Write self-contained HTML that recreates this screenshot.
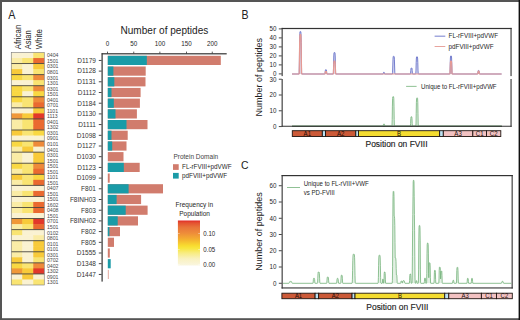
<!DOCTYPE html>
<html><head><meta charset="utf-8"><title>FVIII peptide figure</title><style>
html,body{margin:0;padding:0;background:#fff;}
svg{display:block;}
text{font-family:"Liberation Sans", sans-serif;}
</style></head><body>
<svg width="520" height="320" viewBox="0 0 520 320">
<rect x="0" y="0" width="520" height="320" fill="#fff"/>
<rect x="0" y="0" width="520" height="2" fill="#555"/>
<rect x="0" y="0" width="2" height="320" fill="#555"/>
<rect x="0" y="318.2" width="520" height="1.8" fill="#555"/>
<rect x="518.6" y="0" width="1.4" height="320" fill="#111"/>
<text transform="translate(8.30,18.80) scale(0.900,1)" font-size="12.00" fill="#222">A</text>
<text transform="translate(241.60,18.80) scale(0.880,1)" font-size="12.00" fill="#222">B</text>
<text transform="translate(240.90,168.80) scale(0.900,1)" font-size="11.60" fill="#222">C</text>
<rect x="11.25" y="52.50" width="11.60" height="6.14" fill="#faf2d2"/>
<rect x="22.25" y="52.50" width="11.60" height="6.14" fill="#faf2d2"/>
<rect x="33.25" y="52.50" width="11.00" height="6.14" fill="#f9e472"/>
<text transform="translate(46.90,57.42) scale(0.840,1)" font-size="6.20" fill="#4a4a4a">0404</text>
<rect x="11.25" y="58.04" width="11.60" height="6.14" fill="#faeca6"/>
<rect x="22.25" y="58.04" width="11.60" height="6.14" fill="#f9e472"/>
<rect x="33.25" y="58.04" width="11.00" height="6.14" fill="#ea6a30"/>
<text transform="translate(46.90,62.95) scale(0.840,1)" font-size="6.20" fill="#4a4a4a">1501</text>
<rect x="11.25" y="63.57" width="11.60" height="6.14" fill="#faeca6"/>
<rect x="22.25" y="63.57" width="11.60" height="6.14" fill="#faf2d2"/>
<rect x="33.25" y="63.57" width="11.00" height="6.14" fill="#f8ca3a"/>
<text transform="translate(46.90,68.49) scale(0.840,1)" font-size="6.20" fill="#4a4a4a">0301</text>
<rect x="11.25" y="69.11" width="11.60" height="6.14" fill="#f8ca3a"/>
<rect x="22.25" y="69.11" width="11.60" height="6.14" fill="#faf2d2"/>
<rect x="33.25" y="69.11" width="11.00" height="6.14" fill="#f9e472"/>
<text transform="translate(46.90,74.03) scale(0.840,1)" font-size="6.20" fill="#4a4a4a">0801</text>
<rect x="11.25" y="74.64" width="11.60" height="6.14" fill="#f9d842"/>
<rect x="22.25" y="74.64" width="11.60" height="6.14" fill="#f9e472"/>
<rect x="33.25" y="74.64" width="11.00" height="6.14" fill="#ee8a3a"/>
<text transform="translate(46.90,79.56) scale(0.840,1)" font-size="6.20" fill="#4a4a4a">0301</text>
<rect x="11.25" y="80.18" width="11.60" height="6.14" fill="#faf2d2"/>
<rect x="22.25" y="80.18" width="11.60" height="6.14" fill="#faf2d2"/>
<rect x="33.25" y="80.18" width="11.00" height="6.14" fill="#f9e472"/>
<text transform="translate(46.90,85.10) scale(0.840,1)" font-size="6.20" fill="#4a4a4a">1301</text>
<rect x="11.25" y="85.71" width="11.60" height="6.14" fill="#f9d842"/>
<rect x="22.25" y="85.71" width="11.60" height="6.14" fill="#f9e472"/>
<rect x="33.25" y="85.71" width="11.00" height="6.14" fill="#ee8a3a"/>
<text transform="translate(46.90,90.63) scale(0.840,1)" font-size="6.20" fill="#4a4a4a">0301</text>
<rect x="11.25" y="91.25" width="11.60" height="6.14" fill="#f9d842"/>
<rect x="22.25" y="91.25" width="11.60" height="6.14" fill="#faf2d2"/>
<rect x="33.25" y="91.25" width="11.00" height="6.14" fill="#f9d842"/>
<text transform="translate(46.90,96.17) scale(0.840,1)" font-size="6.20" fill="#4a4a4a">1501</text>
<rect x="11.25" y="96.79" width="11.60" height="6.14" fill="#f9d842"/>
<rect x="22.25" y="96.79" width="11.60" height="6.14" fill="#f9e472"/>
<rect x="33.25" y="96.79" width="11.00" height="6.14" fill="#ee8a3a"/>
<text transform="translate(46.90,101.70) scale(0.840,1)" font-size="6.20" fill="#4a4a4a">0401</text>
<rect x="11.25" y="102.32" width="11.60" height="6.14" fill="#faeca6"/>
<rect x="22.25" y="102.32" width="11.60" height="6.14" fill="#f9e472"/>
<rect x="33.25" y="102.32" width="11.00" height="6.14" fill="#ea6a30"/>
<text transform="translate(46.90,107.24) scale(0.840,1)" font-size="6.20" fill="#4a4a4a">0701</text>
<rect x="11.25" y="107.86" width="11.60" height="6.14" fill="#faf2d2"/>
<rect x="22.25" y="107.86" width="11.60" height="6.14" fill="#faf2d2"/>
<rect x="33.25" y="107.86" width="11.00" height="6.14" fill="#f8ca3a"/>
<text transform="translate(46.90,112.78) scale(0.840,1)" font-size="6.20" fill="#4a4a4a">1101</text>
<rect x="11.25" y="113.39" width="11.60" height="6.14" fill="#f09838"/>
<rect x="22.25" y="113.39" width="11.60" height="6.14" fill="#f8ca3a"/>
<rect x="33.25" y="113.39" width="11.00" height="6.14" fill="#e2382a"/>
<text transform="translate(46.90,118.31) scale(0.840,1)" font-size="6.20" fill="#4a4a4a">1113</text>
<rect x="11.25" y="118.93" width="11.60" height="6.14" fill="#faeca6"/>
<rect x="22.25" y="118.93" width="11.60" height="6.14" fill="#f9e472"/>
<rect x="33.25" y="118.93" width="11.00" height="6.14" fill="#ea6a30"/>
<text transform="translate(46.90,123.85) scale(0.840,1)" font-size="6.20" fill="#4a4a4a">0401</text>
<rect x="11.25" y="124.46" width="11.60" height="6.14" fill="#faeca6"/>
<rect x="22.25" y="124.46" width="11.60" height="6.14" fill="#f9e472"/>
<rect x="33.25" y="124.46" width="11.00" height="6.14" fill="#ea6a30"/>
<text transform="translate(46.90,129.38) scale(0.840,1)" font-size="6.20" fill="#4a4a4a">1302</text>
<rect x="11.25" y="130.00" width="11.60" height="6.14" fill="#f8ca3a"/>
<rect x="22.25" y="130.00" width="11.60" height="6.14" fill="#f9e472"/>
<rect x="33.25" y="130.00" width="11.00" height="6.14" fill="#f9d842"/>
<text transform="translate(46.90,134.92) scale(0.840,1)" font-size="6.20" fill="#4a4a4a">0301</text>
<rect x="11.25" y="135.54" width="11.60" height="6.14" fill="#faf2d2"/>
<rect x="22.25" y="135.54" width="11.60" height="6.14" fill="#faf2d2"/>
<rect x="33.25" y="135.54" width="11.00" height="6.14" fill="#faf2d2"/>
<text transform="translate(46.90,140.45) scale(0.840,1)" font-size="6.20" fill="#4a4a4a">0901</text>
<rect x="11.25" y="141.07" width="11.60" height="6.14" fill="#f9d842"/>
<rect x="22.25" y="141.07" width="11.60" height="6.14" fill="#f9e472"/>
<rect x="33.25" y="141.07" width="11.00" height="6.14" fill="#ee8a3a"/>
<text transform="translate(46.90,145.99) scale(0.840,1)" font-size="6.20" fill="#4a4a4a">0101</text>
<rect x="11.25" y="146.61" width="11.60" height="6.14" fill="#faeca6"/>
<rect x="22.25" y="146.61" width="11.60" height="6.14" fill="#f8ca3a"/>
<rect x="33.25" y="146.61" width="11.00" height="6.14" fill="#faf2d2"/>
<text transform="translate(46.90,151.53) scale(0.840,1)" font-size="6.20" fill="#4a4a4a">0401</text>
<rect x="11.25" y="152.14" width="11.60" height="6.14" fill="#faeca6"/>
<rect x="22.25" y="152.14" width="11.60" height="6.14" fill="#faf2d2"/>
<rect x="33.25" y="152.14" width="11.00" height="6.14" fill="#f8ca3a"/>
<text transform="translate(46.90,157.06) scale(0.840,1)" font-size="6.20" fill="#4a4a4a">0301</text>
<rect x="11.25" y="157.68" width="11.60" height="6.14" fill="#faeca6"/>
<rect x="22.25" y="157.68" width="11.60" height="6.14" fill="#faf2d2"/>
<rect x="33.25" y="157.68" width="11.00" height="6.14" fill="#f8ca3a"/>
<text transform="translate(46.90,162.60) scale(0.840,1)" font-size="6.20" fill="#4a4a4a">1501</text>
<rect x="11.25" y="163.21" width="11.60" height="6.14" fill="#f9d842"/>
<rect x="22.25" y="163.21" width="11.60" height="6.14" fill="#f9e472"/>
<rect x="33.25" y="163.21" width="11.00" height="6.14" fill="#ee8a3a"/>
<text transform="translate(46.90,168.13) scale(0.840,1)" font-size="6.20" fill="#4a4a4a">1501</text>
<rect x="11.25" y="168.75" width="11.60" height="6.14" fill="#faeca6"/>
<rect x="22.25" y="168.75" width="11.60" height="6.14" fill="#f9e472"/>
<rect x="33.25" y="168.75" width="11.00" height="6.14" fill="#ea6a30"/>
<text transform="translate(46.90,173.67) scale(0.840,1)" font-size="6.20" fill="#4a4a4a">1501</text>
<rect x="11.25" y="174.29" width="11.60" height="6.14" fill="#f8ca3a"/>
<rect x="22.25" y="174.29" width="11.60" height="6.14" fill="#f9e472"/>
<rect x="33.25" y="174.29" width="11.00" height="6.14" fill="#f9d842"/>
<text transform="translate(46.90,179.20) scale(0.840,1)" font-size="6.20" fill="#4a4a4a">1101</text>
<rect x="11.25" y="179.82" width="11.60" height="6.14" fill="#faeca6"/>
<rect x="22.25" y="179.82" width="11.60" height="6.14" fill="#f9e472"/>
<rect x="33.25" y="179.82" width="11.00" height="6.14" fill="#ea6a30"/>
<text transform="translate(46.90,184.74) scale(0.840,1)" font-size="6.20" fill="#4a4a4a">1501</text>
<rect x="11.25" y="185.36" width="11.60" height="6.14" fill="#faf2d2"/>
<rect x="22.25" y="185.36" width="11.60" height="6.14" fill="#faf2d2"/>
<rect x="33.25" y="185.36" width="11.00" height="6.14" fill="#faf2d2"/>
<text transform="translate(46.90,190.28) scale(0.840,1)" font-size="6.20" fill="#4a4a4a">0407</text>
<rect x="11.25" y="190.89" width="11.60" height="6.14" fill="#faeca6"/>
<rect x="22.25" y="190.89" width="11.60" height="6.14" fill="#f9e472"/>
<rect x="33.25" y="190.89" width="11.00" height="6.14" fill="#ea6a30"/>
<text transform="translate(46.90,195.81) scale(0.840,1)" font-size="6.20" fill="#4a4a4a">1501</text>
<rect x="11.25" y="196.43" width="11.60" height="6.14" fill="#faf2d2"/>
<rect x="22.25" y="196.43" width="11.60" height="6.14" fill="#faf2d2"/>
<rect x="33.25" y="196.43" width="11.00" height="6.14" fill="#faf2d2"/>
<text transform="translate(46.90,201.35) scale(0.840,1)" font-size="6.20" fill="#4a4a4a">1501</text>
<rect x="11.25" y="201.96" width="11.60" height="6.14" fill="#faeca6"/>
<rect x="22.25" y="201.96" width="11.60" height="6.14" fill="#f9e472"/>
<rect x="33.25" y="201.96" width="11.00" height="6.14" fill="#ea6a30"/>
<text transform="translate(46.90,206.88) scale(0.840,1)" font-size="6.20" fill="#4a4a4a">1602</text>
<rect x="11.25" y="207.50" width="11.60" height="6.14" fill="#faeca6"/>
<rect x="22.25" y="207.50" width="11.60" height="6.14" fill="#f9e472"/>
<rect x="33.25" y="207.50" width="11.00" height="6.14" fill="#ea6a30"/>
<text transform="translate(46.90,212.42) scale(0.840,1)" font-size="6.20" fill="#4a4a4a">0408</text>
<rect x="11.25" y="213.04" width="11.60" height="6.14" fill="#faf2d2"/>
<rect x="22.25" y="213.04" width="11.60" height="6.14" fill="#faf2d2"/>
<rect x="33.25" y="213.04" width="11.00" height="6.14" fill="#faf2d2"/>
<text transform="translate(46.90,217.95) scale(0.840,1)" font-size="6.20" fill="#4a4a4a">1501</text>
<rect x="11.25" y="218.57" width="11.60" height="6.14" fill="#f09838"/>
<rect x="22.25" y="218.57" width="11.60" height="6.14" fill="#f8ca3a"/>
<rect x="33.25" y="218.57" width="11.00" height="6.14" fill="#e2382a"/>
<text transform="translate(46.90,223.49) scale(0.840,1)" font-size="6.20" fill="#4a4a4a">0701</text>
<rect x="11.25" y="224.11" width="11.60" height="6.14" fill="#faeca6"/>
<rect x="22.25" y="224.11" width="11.60" height="6.14" fill="#f9e472"/>
<rect x="33.25" y="224.11" width="11.00" height="6.14" fill="#ea6a30"/>
<text transform="translate(46.90,229.03) scale(0.840,1)" font-size="6.20" fill="#4a4a4a">1501</text>
<rect x="11.25" y="229.64" width="11.60" height="6.14" fill="#f9e472"/>
<rect x="22.25" y="229.64" width="11.60" height="6.14" fill="#faf2d2"/>
<rect x="33.25" y="229.64" width="11.00" height="6.14" fill="#faf2d2"/>
<text transform="translate(46.90,234.56) scale(0.840,1)" font-size="6.20" fill="#4a4a4a">0102</text>
<rect x="11.25" y="235.18" width="11.60" height="6.14" fill="#faf2d2"/>
<rect x="22.25" y="235.18" width="11.60" height="6.14" fill="#faf2d2"/>
<rect x="33.25" y="235.18" width="11.00" height="6.14" fill="#faeca6"/>
<text transform="translate(46.90,240.10) scale(0.840,1)" font-size="6.20" fill="#4a4a4a">0801</text>
<rect x="11.25" y="240.71" width="11.60" height="6.14" fill="#faeca6"/>
<rect x="22.25" y="240.71" width="11.60" height="6.14" fill="#faf2d2"/>
<rect x="33.25" y="240.71" width="11.00" height="6.14" fill="#f8ca3a"/>
<text transform="translate(46.90,245.63) scale(0.840,1)" font-size="6.20" fill="#4a4a4a">0101</text>
<rect x="11.25" y="246.25" width="11.60" height="6.14" fill="#faeca6"/>
<rect x="22.25" y="246.25" width="11.60" height="6.14" fill="#faf2d2"/>
<rect x="33.25" y="246.25" width="11.00" height="6.14" fill="#f8ca3a"/>
<text transform="translate(46.90,251.17) scale(0.840,1)" font-size="6.20" fill="#4a4a4a">0101</text>
<rect x="11.25" y="251.79" width="11.60" height="6.14" fill="#faeca6"/>
<rect x="22.25" y="251.79" width="11.60" height="6.14" fill="#faf2d2"/>
<rect x="33.25" y="251.79" width="11.00" height="6.14" fill="#f8ca3a"/>
<text transform="translate(46.90,256.70) scale(0.840,1)" font-size="6.20" fill="#4a4a4a">0301</text>
<rect x="11.25" y="257.32" width="11.60" height="6.14" fill="#f8ca3a"/>
<rect x="22.25" y="257.32" width="11.60" height="6.14" fill="#faf2d2"/>
<rect x="33.25" y="257.32" width="11.00" height="6.14" fill="#f9e472"/>
<text transform="translate(46.90,262.24) scale(0.840,1)" font-size="6.20" fill="#4a4a4a">0702</text>
<rect x="11.25" y="262.86" width="11.60" height="6.14" fill="#f9d842"/>
<rect x="22.25" y="262.86" width="11.60" height="6.14" fill="#f9e472"/>
<rect x="33.25" y="262.86" width="11.00" height="6.14" fill="#ee8a3a"/>
<text transform="translate(46.90,267.78) scale(0.840,1)" font-size="6.20" fill="#4a4a4a">0402</text>
<rect x="11.25" y="268.39" width="11.60" height="6.14" fill="#f09838"/>
<rect x="22.25" y="268.39" width="11.60" height="6.14" fill="#f8ca3a"/>
<rect x="33.25" y="268.39" width="11.00" height="6.14" fill="#e2382a"/>
<text transform="translate(46.90,273.31) scale(0.840,1)" font-size="6.20" fill="#4a4a4a">1302</text>
<rect x="11.25" y="273.93" width="11.60" height="6.14" fill="#faf2d2"/>
<rect x="22.25" y="273.93" width="11.60" height="6.14" fill="#f8ca3a"/>
<rect x="33.25" y="273.93" width="11.00" height="6.14" fill="#faf2d2"/>
<text transform="translate(46.90,278.85) scale(0.840,1)" font-size="6.20" fill="#4a4a4a">0901</text>
<rect x="11.25" y="279.46" width="11.60" height="5.54" fill="#f9e472"/>
<rect x="22.25" y="279.46" width="11.60" height="5.54" fill="#faf2d2"/>
<rect x="33.25" y="279.46" width="11.00" height="5.54" fill="#f9e472"/>
<text transform="translate(46.90,284.38) scale(0.840,1)" font-size="6.20" fill="#4a4a4a">1301</text>
<rect x="11.25" y="63.12" width="33.00" height="0.9" fill="#4a4840"/>
<rect x="11.25" y="74.19" width="33.00" height="0.9" fill="#4a4840"/>
<rect x="11.25" y="85.26" width="33.00" height="0.9" fill="#4a4840"/>
<rect x="11.25" y="96.34" width="33.00" height="0.9" fill="#4a4840"/>
<rect x="11.25" y="107.41" width="33.00" height="0.9" fill="#4a4840"/>
<rect x="11.25" y="118.48" width="33.00" height="0.9" fill="#4a4840"/>
<rect x="11.25" y="129.55" width="33.00" height="0.9" fill="#4a4840"/>
<rect x="11.25" y="140.62" width="33.00" height="0.9" fill="#4a4840"/>
<rect x="11.25" y="151.69" width="33.00" height="0.9" fill="#4a4840"/>
<rect x="11.25" y="162.76" width="33.00" height="0.9" fill="#4a4840"/>
<rect x="11.25" y="173.84" width="33.00" height="0.9" fill="#4a4840"/>
<rect x="11.25" y="184.91" width="33.00" height="0.9" fill="#4a4840"/>
<rect x="11.25" y="195.98" width="33.00" height="0.9" fill="#4a4840"/>
<rect x="11.25" y="207.05" width="33.00" height="0.9" fill="#4a4840"/>
<rect x="11.25" y="218.12" width="33.00" height="0.9" fill="#4a4840"/>
<rect x="11.25" y="229.19" width="33.00" height="0.9" fill="#4a4840"/>
<rect x="11.25" y="240.26" width="33.00" height="0.9" fill="#4a4840"/>
<rect x="11.25" y="251.34" width="33.00" height="0.9" fill="#4a4840"/>
<rect x="11.25" y="262.41" width="33.00" height="0.9" fill="#4a4840"/>
<rect x="11.25" y="273.48" width="33.00" height="0.9" fill="#4a4840"/>
<rect x="11.25" y="52.50" width="33.00" height="232.50" fill="none" stroke="#777" stroke-width="0.6"/>
<text transform="translate(20.60,49.20) rotate(-90) scale(0.885,1)" font-size="8.90" fill="#222">African</text>
<text transform="translate(31.00,49.20) rotate(-90) scale(0.850,1)" font-size="8.90" fill="#222">Asian</text>
<text transform="translate(42.30,49.20) rotate(-90) scale(0.885,1)" font-size="8.90" fill="#222">White</text>
<text transform="translate(164.40,34.30) scale(0.950,1)" font-size="10.60" fill="#222" text-anchor="middle">Number of peptides</text>
<text transform="translate(107.40,45.90) scale(0.950,1)" font-size="6.60" fill="#262626" text-anchor="middle">0</text>
<rect x="107.00" y="51.6" width="0.8" height="2" fill="#333"/>
<text transform="translate(133.80,45.90) scale(0.950,1)" font-size="6.60" fill="#262626" text-anchor="middle">50</text>
<rect x="133.40" y="51.6" width="0.8" height="2" fill="#333"/>
<text transform="translate(159.90,45.90) scale(0.950,1)" font-size="6.60" fill="#262626" text-anchor="middle">100</text>
<rect x="159.50" y="51.6" width="0.8" height="2" fill="#333"/>
<text transform="translate(186.40,45.90) scale(0.950,1)" font-size="6.60" fill="#262626" text-anchor="middle">150</text>
<rect x="186.00" y="51.6" width="0.8" height="2" fill="#333"/>
<text transform="translate(212.20,45.90) scale(0.950,1)" font-size="6.60" fill="#262626" text-anchor="middle">200</text>
<rect x="211.80" y="51.6" width="0.8" height="2" fill="#333"/>
<rect x="101.7" y="53.2" width="125" height="1.2" fill="#333"/>
<rect x="101.5" y="53.2" width="1.2" height="228.4" fill="#333"/>
<rect x="98.8" y="59.95" width="2.8" height="0.9" fill="#333"/>
<text x="95.9" y="62.70" font-size="6.5" fill="#333" text-anchor="end">D1179</text>
<rect x="107.80" y="55.80" width="113.00" height="9.20" fill="#d17c6d"/>
<rect x="107.80" y="55.80" width="39.00" height="9.20" fill="#1a9ba7"/>
<rect x="98.8" y="70.65" width="2.8" height="0.9" fill="#333"/>
<text x="95.9" y="73.40" font-size="6.5" fill="#333" text-anchor="end">D1128</text>
<rect x="107.80" y="66.50" width="37.90" height="9.20" fill="#d17c6d"/>
<rect x="107.80" y="66.50" width="5.60" height="9.20" fill="#1a9ba7"/>
<rect x="98.8" y="81.35" width="2.8" height="0.9" fill="#333"/>
<text x="95.9" y="84.10" font-size="6.5" fill="#333" text-anchor="end">D1131</text>
<rect x="107.80" y="77.20" width="37.70" height="9.20" fill="#d17c6d"/>
<rect x="107.80" y="77.20" width="6.50" height="9.20" fill="#1a9ba7"/>
<rect x="98.8" y="92.05" width="2.8" height="0.9" fill="#333"/>
<text x="95.9" y="94.80" font-size="6.5" fill="#333" text-anchor="end">D1112</text>
<rect x="107.80" y="87.90" width="32.80" height="9.20" fill="#d17c6d"/>
<rect x="107.80" y="87.90" width="3.70" height="9.20" fill="#1a9ba7"/>
<rect x="98.8" y="102.75" width="2.8" height="0.9" fill="#333"/>
<text x="95.9" y="105.50" font-size="6.5" fill="#333" text-anchor="end">D1184</text>
<rect x="107.80" y="98.60" width="32.10" height="9.20" fill="#d17c6d"/>
<rect x="107.80" y="98.60" width="6.00" height="9.20" fill="#1a9ba7"/>
<rect x="98.8" y="113.45" width="2.8" height="0.9" fill="#333"/>
<text x="95.9" y="116.20" font-size="6.5" fill="#333" text-anchor="end">D1130</text>
<rect x="107.80" y="109.30" width="29.10" height="9.20" fill="#d17c6d"/>
<rect x="107.80" y="109.30" width="7.70" height="9.20" fill="#1a9ba7"/>
<rect x="98.8" y="124.15" width="2.8" height="0.9" fill="#333"/>
<text x="95.9" y="126.90" font-size="6.5" fill="#333" text-anchor="end">D1111</text>
<rect x="107.80" y="120.00" width="39.70" height="9.20" fill="#d17c6d"/>
<rect x="107.80" y="120.00" width="18.70" height="9.20" fill="#1a9ba7"/>
<rect x="98.8" y="134.85" width="2.8" height="0.9" fill="#333"/>
<text x="95.9" y="137.60" font-size="6.5" fill="#333" text-anchor="end">D1098</text>
<rect x="107.80" y="130.70" width="19.90" height="9.20" fill="#d17c6d"/>
<rect x="107.80" y="130.70" width="3.70" height="9.20" fill="#1a9ba7"/>
<rect x="98.8" y="145.55" width="2.8" height="0.9" fill="#333"/>
<text x="95.9" y="148.30" font-size="6.5" fill="#333" text-anchor="end">D1127</text>
<rect x="107.80" y="141.40" width="18.70" height="9.20" fill="#d17c6d"/>
<rect x="107.80" y="141.40" width="4.40" height="9.20" fill="#1a9ba7"/>
<rect x="98.8" y="156.25" width="2.8" height="0.9" fill="#333"/>
<text x="95.9" y="159.00" font-size="6.5" fill="#333" text-anchor="end">D1030</text>
<rect x="107.80" y="152.10" width="15.70" height="9.20" fill="#d17c6d"/>
<rect x="98.8" y="166.95" width="2.8" height="0.9" fill="#333"/>
<text x="95.9" y="169.70" font-size="6.5" fill="#333" text-anchor="end">D1123</text>
<rect x="107.80" y="162.80" width="31.90" height="9.20" fill="#d17c6d"/>
<rect x="107.80" y="162.80" width="16.00" height="9.20" fill="#1a9ba7"/>
<rect x="98.8" y="177.65" width="2.8" height="0.9" fill="#333"/>
<text x="95.9" y="180.40" font-size="6.5" fill="#333" text-anchor="end">D1099</text>
<rect x="107.80" y="173.50" width="1.90" height="9.20" fill="#d17c6d"/>
<rect x="98.8" y="188.35" width="2.8" height="0.9" fill="#333"/>
<text x="95.9" y="191.10" font-size="6.5" fill="#333" text-anchor="end">F801</text>
<rect x="107.80" y="184.20" width="55.20" height="9.20" fill="#d17c6d"/>
<rect x="107.80" y="184.20" width="20.80" height="9.20" fill="#1a9ba7"/>
<rect x="98.8" y="199.05" width="2.8" height="0.9" fill="#333"/>
<text x="95.9" y="201.80" font-size="6.5" fill="#333" text-anchor="end">F8INH03</text>
<rect x="107.80" y="194.90" width="33.30" height="9.20" fill="#d17c6d"/>
<rect x="107.80" y="194.90" width="8.80" height="9.20" fill="#1a9ba7"/>
<rect x="98.8" y="209.75" width="2.8" height="0.9" fill="#333"/>
<text x="95.9" y="212.50" font-size="6.5" fill="#333" text-anchor="end">F803</text>
<rect x="107.80" y="205.60" width="39.80" height="9.20" fill="#d17c6d"/>
<rect x="107.80" y="205.60" width="17.90" height="9.20" fill="#1a9ba7"/>
<rect x="98.8" y="220.45" width="2.8" height="0.9" fill="#333"/>
<text x="95.9" y="223.20" font-size="6.5" fill="#333" text-anchor="end">F8INH02</text>
<rect x="107.80" y="216.30" width="30.20" height="9.20" fill="#d17c6d"/>
<rect x="107.80" y="216.30" width="9.90" height="9.20" fill="#1a9ba7"/>
<rect x="98.8" y="231.15" width="2.8" height="0.9" fill="#333"/>
<text x="95.9" y="233.90" font-size="6.5" fill="#333" text-anchor="end">F802</text>
<rect x="107.80" y="227.00" width="12.20" height="9.20" fill="#d17c6d"/>
<rect x="107.80" y="227.00" width="1.60" height="9.20" fill="#1a9ba7"/>
<rect x="98.8" y="241.85" width="2.8" height="0.9" fill="#333"/>
<text x="95.9" y="244.60" font-size="6.5" fill="#333" text-anchor="end">F805</text>
<rect x="107.80" y="237.70" width="6.20" height="9.20" fill="#d17c6d"/>
<rect x="98.8" y="252.55" width="2.8" height="0.9" fill="#333"/>
<text x="95.9" y="255.30" font-size="6.5" fill="#333" text-anchor="end">D1555</text>
<rect x="107.80" y="248.40" width="2.00" height="9.20" fill="#d17c6d"/>
<rect x="98.8" y="263.25" width="2.8" height="0.9" fill="#333"/>
<text x="95.9" y="266.00" font-size="6.5" fill="#333" text-anchor="end">D1348</text>
<rect x="107.80" y="259.10" width="2.90" height="9.20" fill="#1a9ba7"/>
<rect x="98.8" y="273.95" width="2.8" height="0.9" fill="#333"/>
<text x="95.9" y="276.70" font-size="6.5" fill="#333" text-anchor="end">D1447</text>
<rect x="107.80" y="269.80" width="1.10" height="9.20" fill="#e6b2a8"/>
<text transform="translate(173.40,159.00) scale(0.930,1)" font-size="7.00" fill="#444">Protein Domain</text>
<rect x="173.0" y="164.2" width="5.7" height="5.7" fill="#d17c6d"/>
<text transform="translate(182.10,169.10) scale(0.900,1)" font-size="7.00" fill="#262626">FL-rFVIII+pdVWF</text>
<rect x="173.0" y="172.9" width="5.7" height="5.7" fill="#1a9ba7"/>
<text transform="translate(182.10,177.80) scale(0.900,1)" font-size="7.00" fill="#262626">pdFVIII+pdVWF</text>
<text transform="translate(194.40,207.30) scale(0.930,1)" font-size="7.00" fill="#262626" text-anchor="middle">Frequency in</text>
<text transform="translate(194.60,216.10) scale(0.930,1)" font-size="7.00" fill="#262626" text-anchor="middle">Population</text>
<defs><linearGradient id="fg" x1="0" y1="0" x2="0" y2="1"><stop offset="0" stop-color="#e02828"/><stop offset="0.05" stop-color="#e45030"/><stop offset="0.15" stop-color="#e8743a"/><stop offset="0.28" stop-color="#ee8c3a"/><stop offset="0.42" stop-color="#f4b030"/><stop offset="0.56" stop-color="#f8dc30"/><stop offset="0.62" stop-color="#f8e640"/><stop offset="0.72" stop-color="#f8ec80"/><stop offset="0.85" stop-color="#f9f1c0"/><stop offset="1" stop-color="#faf6e0"/></linearGradient></defs>
<rect x="177.9" y="220.5" width="22.1" height="45" fill="url(#fg)"/>
<rect x="177.9" y="233.15" width="1.8" height="0.5" fill="#fff" opacity="0.8"/>
<rect x="198.2" y="233.15" width="1.8" height="0.5" fill="#fff" opacity="0.8"/>
<text transform="translate(203.30,235.70) scale(0.930,1)" font-size="6.60" fill="#262626">0.10</text>
<rect x="177.9" y="249.05" width="1.8" height="0.5" fill="#fff" opacity="0.8"/>
<rect x="198.2" y="249.05" width="1.8" height="0.5" fill="#fff" opacity="0.8"/>
<text transform="translate(203.30,251.60) scale(0.930,1)" font-size="6.60" fill="#262626">0.05</text>
<rect x="177.9" y="264.45" width="1.8" height="0.5" fill="#fff" opacity="0.8"/>
<rect x="198.2" y="264.45" width="1.8" height="0.5" fill="#fff" opacity="0.8"/>
<text transform="translate(203.30,267.00) scale(0.930,1)" font-size="6.60" fill="#262626">0.00</text>
<text transform="translate(262.0,77.3) rotate(-90)" font-size="9" fill="#222" text-anchor="middle">Number of peptides</text>
<rect x="281.6" y="27.9" width="230" height="1.2" fill="#333"/>
<rect x="281.6" y="27.9" width="1.1" height="48.2" fill="#333"/>
<rect x="510.5" y="27.9" width="1.1" height="48.2" fill="#333"/>
<rect x="278.8" y="73.45" width="3" height="0.9" fill="#333"/>
<text transform="translate(276.40,76.20) scale(0.930,1)" font-size="6.70" fill="#262626" text-anchor="end">0</text>
<rect x="278.8" y="64.45" width="3" height="0.9" fill="#333"/>
<text transform="translate(276.40,67.20) scale(0.930,1)" font-size="6.70" fill="#262626" text-anchor="end">10</text>
<rect x="278.8" y="55.45" width="3" height="0.9" fill="#333"/>
<text transform="translate(276.40,58.20) scale(0.930,1)" font-size="6.70" fill="#262626" text-anchor="end">20</text>
<rect x="278.8" y="46.45" width="3" height="0.9" fill="#333"/>
<text transform="translate(276.40,49.20) scale(0.930,1)" font-size="6.70" fill="#262626" text-anchor="end">30</text>
<rect x="278.8" y="37.45" width="3" height="0.9" fill="#333"/>
<text transform="translate(276.40,40.20) scale(0.930,1)" font-size="6.70" fill="#262626" text-anchor="end">40</text>
<rect x="278.8" y="28.45" width="3" height="0.9" fill="#333"/>
<text transform="translate(276.40,31.20) scale(0.930,1)" font-size="6.70" fill="#262626" text-anchor="end">50</text>
<rect x="281.6" y="79.0" width="1.1" height="47.8" fill="#333"/>
<rect x="510.5" y="79.0" width="1.1" height="47.8" fill="#333"/>
<rect x="281.6" y="125.75" width="230" height="1.0" fill="#333"/>
<rect x="278.8" y="126.15" width="3" height="0.9" fill="#333"/>
<text transform="translate(276.40,128.90) scale(0.930,1)" font-size="6.70" fill="#262626" text-anchor="end">0</text>
<rect x="278.8" y="110.35" width="3" height="0.9" fill="#333"/>
<text transform="translate(276.40,113.10) scale(0.930,1)" font-size="6.70" fill="#262626" text-anchor="end">10</text>
<rect x="278.8" y="94.55" width="3" height="0.9" fill="#333"/>
<text transform="translate(276.40,97.30) scale(0.930,1)" font-size="6.70" fill="#262626" text-anchor="end">20</text>
<rect x="278.8" y="78.75" width="3" height="0.9" fill="#333"/>
<text transform="translate(276.40,81.50) scale(0.930,1)" font-size="6.70" fill="#262626" text-anchor="end">30</text>
<path d="M292.00 74.00 L292.00 74.00 L299.00 73.99 L299.20 72.60 L299.40 60.45 L299.60 42.50 L299.80 33.71 L300.00 31.70 L300.20 31.50 L300.40 31.50 L300.60 31.50 L300.80 31.70 L301.00 33.71 L301.20 42.50 L301.40 60.45 L301.60 72.60 L301.80 73.99 L324.80 74.00 L325.00 73.69 L325.20 71.61 L325.40 70.02 L325.60 69.72 L325.80 69.70 L326.00 69.70 L326.20 69.72 L326.40 70.02 L326.60 71.61 L326.80 73.69 L327.00 74.00 L333.00 74.00 L333.20 73.98 L333.40 72.47 L333.60 64.27 L333.80 55.96 L334.00 53.00 L334.20 52.52 L334.40 52.50 L334.60 52.50 L334.80 52.52 L335.00 53.00 L335.20 55.96 L335.40 64.27 L335.60 72.47 L335.80 73.98 L336.00 74.00 L383.00 74.00 L383.20 73.88 L383.40 72.80 L383.60 72.33 L383.80 72.30 L384.00 72.30 L384.20 72.33 L384.40 72.80 L384.60 73.88 L384.80 74.00 L392.20 74.00 L392.40 73.99 L392.60 72.74 L392.80 65.99 L393.00 59.15 L393.20 56.71 L393.40 56.32 L393.60 56.30 L393.80 56.30 L394.00 56.32 L394.20 56.71 L394.40 59.15 L394.60 65.99 L394.80 72.74 L395.00 73.99 L395.20 74.00 L410.40 74.00 L410.60 73.57 L410.80 70.66 L411.00 68.45 L411.20 68.02 L411.40 68.00 L411.60 68.00 L411.80 68.02 L412.00 68.45 L412.20 70.66 L412.40 73.57 L412.60 74.00 L415.60 74.00 L415.80 73.80 L416.00 70.13 L416.20 62.37 L416.40 57.96 L416.60 56.90 L416.80 56.80 L417.00 56.80 L417.20 56.80 L417.40 56.90 L417.60 57.96 L417.80 62.37 L418.00 70.13 L418.20 73.80 L418.40 74.00 L449.80 73.99 L450.00 72.71 L450.20 64.95 L450.40 58.00 L450.60 56.09 L450.80 55.90 L451.00 55.90 L451.20 55.90 L451.40 56.09 L451.60 58.00 L451.80 64.95 L452.00 72.71 L452.20 73.99 L477.60 74.00 L477.80 73.75 L478.00 71.81 L478.20 70.64 L478.40 70.50 L478.60 70.50 L478.80 70.50 L479.00 70.64 L479.20 71.81 L479.40 73.75 L479.60 74.00 L501.60 74.00 L501.70 74.00 Z" fill="#6670c8" opacity="0.22"/>
<path d="M292.00 74.00 L292.00 74.00 L299.00 73.99 L299.20 72.70 L299.40 61.41 L299.60 44.73 L299.80 36.55 L300.00 34.68 L300.20 34.50 L300.40 34.50 L300.60 34.50 L300.80 34.68 L301.00 36.55 L301.20 44.73 L301.40 61.41 L301.60 72.70 L301.80 73.99 L324.80 74.00 L325.00 73.82 L325.20 72.61 L325.40 71.69 L325.60 71.51 L325.80 71.50 L326.00 71.50 L326.20 71.51 L326.40 71.69 L326.60 72.61 L326.80 73.82 L327.00 74.00 L333.20 73.99 L333.40 73.08 L333.60 68.16 L333.80 63.18 L334.00 61.40 L334.20 61.11 L334.40 61.10 L334.60 61.10 L334.80 61.11 L335.00 61.40 L335.20 63.18 L335.40 68.16 L335.60 73.08 L335.80 73.99 L449.80 74.00 L450.00 73.08 L450.20 67.55 L450.40 62.60 L450.60 61.24 L450.80 61.10 L451.00 61.10 L451.20 61.10 L451.40 61.24 L451.60 62.60 L451.80 67.55 L452.00 73.08 L452.20 74.00 L477.60 74.00 L477.80 73.80 L478.00 72.25 L478.20 71.31 L478.40 71.20 L478.60 71.20 L478.80 71.20 L479.00 71.31 L479.20 72.25 L479.40 73.80 L479.60 74.00 L501.60 74.00 L501.70 74.00 Z" fill="#e69a94" opacity="0.25"/>
<path d="M292.00 74.00 L299.00 73.99 L299.20 72.60 L299.40 60.45 L299.60 42.50 L299.80 33.71 L300.00 31.70 L300.20 31.50 L300.40 31.50 L300.60 31.50 L300.80 31.70 L301.00 33.71 L301.20 42.50 L301.40 60.45 L301.60 72.60 L301.80 73.99 L324.80 74.00 L325.00 73.69 L325.20 71.61 L325.40 70.02 L325.60 69.72 L325.80 69.70 L326.00 69.70 L326.20 69.72 L326.40 70.02 L326.60 71.61 L326.80 73.69 L327.00 74.00 L333.00 74.00 L333.20 73.98 L333.40 72.47 L333.60 64.27 L333.80 55.96 L334.00 53.00 L334.20 52.52 L334.40 52.50 L334.60 52.50 L334.80 52.52 L335.00 53.00 L335.20 55.96 L335.40 64.27 L335.60 72.47 L335.80 73.98 L336.00 74.00 L383.00 74.00 L383.20 73.88 L383.40 72.80 L383.60 72.33 L383.80 72.30 L384.00 72.30 L384.20 72.33 L384.40 72.80 L384.60 73.88 L384.80 74.00 L392.20 74.00 L392.40 73.99 L392.60 72.74 L392.80 65.99 L393.00 59.15 L393.20 56.71 L393.40 56.32 L393.60 56.30 L393.80 56.30 L394.00 56.32 L394.20 56.71 L394.40 59.15 L394.60 65.99 L394.80 72.74 L395.00 73.99 L395.20 74.00 L410.40 74.00 L410.60 73.57 L410.80 70.66 L411.00 68.45 L411.20 68.02 L411.40 68.00 L411.60 68.00 L411.80 68.02 L412.00 68.45 L412.20 70.66 L412.40 73.57 L412.60 74.00 L415.60 74.00 L415.80 73.80 L416.00 70.13 L416.20 62.37 L416.40 57.96 L416.60 56.90 L416.80 56.80 L417.00 56.80 L417.20 56.80 L417.40 56.90 L417.60 57.96 L417.80 62.37 L418.00 70.13 L418.20 73.80 L418.40 74.00 L449.80 73.99 L450.00 72.71 L450.20 64.95 L450.40 58.00 L450.60 56.09 L450.80 55.90 L451.00 55.90 L451.20 55.90 L451.40 56.09 L451.60 58.00 L451.80 64.95 L452.00 72.71 L452.20 73.99 L477.60 74.00 L477.80 73.75 L478.00 71.81 L478.20 70.64 L478.40 70.50 L478.60 70.50 L478.80 70.50 L479.00 70.64 L479.20 71.81 L479.40 73.75 L479.60 74.00 L501.60 74.00" fill="none" stroke="#6670c8" stroke-width="0.9"/>
<path d="M292.00 74.00 L299.00 73.99 L299.20 72.70 L299.40 61.41 L299.60 44.73 L299.80 36.55 L300.00 34.68 L300.20 34.50 L300.40 34.50 L300.60 34.50 L300.80 34.68 L301.00 36.55 L301.20 44.73 L301.40 61.41 L301.60 72.70 L301.80 73.99 L324.80 74.00 L325.00 73.82 L325.20 72.61 L325.40 71.69 L325.60 71.51 L325.80 71.50 L326.00 71.50 L326.20 71.51 L326.40 71.69 L326.60 72.61 L326.80 73.82 L327.00 74.00 L333.20 73.99 L333.40 73.08 L333.60 68.16 L333.80 63.18 L334.00 61.40 L334.20 61.11 L334.40 61.10 L334.60 61.10 L334.80 61.11 L335.00 61.40 L335.20 63.18 L335.40 68.16 L335.60 73.08 L335.80 73.99 L449.80 74.00 L450.00 73.08 L450.20 67.55 L450.40 62.60 L450.60 61.24 L450.80 61.10 L451.00 61.10 L451.20 61.10 L451.40 61.24 L451.60 62.60 L451.80 67.55 L452.00 73.08 L452.20 74.00 L477.60 74.00 L477.80 73.80 L478.00 72.25 L478.20 71.31 L478.40 71.20 L478.60 71.20 L478.80 71.20 L479.00 71.31 L479.20 72.25 L479.40 73.80 L479.60 74.00 L501.60 74.00" fill="none" stroke="#e69a94" stroke-width="1.2"/>
<rect x="434.6" y="35.7" width="10.7" height="0.9" fill="#6670c8"/>
<text transform="translate(448.60,38.40) scale(0.900,1)" font-size="7.00" fill="#262626">FL-rFVIII+pdVWF</text>
<rect x="434.6" y="46.0" width="10.7" height="0.9" fill="#e69a94"/>
<text transform="translate(448.60,48.70) scale(0.900,1)" font-size="7.00" fill="#262626">pdFVIII+pdVWF</text>
<path d="M292.00 126.00 L292.00 126.00 L383.00 126.00 L383.20 125.86 L383.40 124.75 L383.60 124.08 L383.80 124.00 L384.00 124.00 L384.20 124.00 L384.40 124.08 L384.60 124.75 L384.80 125.86 L385.00 126.00 L391.80 126.00 L392.00 125.66 L392.20 119.39 L392.40 106.12 L392.60 98.58 L392.80 96.78 L393.00 96.60 L393.20 96.60 L393.40 96.60 L393.60 96.78 L393.80 98.58 L394.00 106.12 L394.20 119.39 L394.40 125.66 L394.60 126.00 L410.20 126.00 L410.40 125.94 L410.60 123.48 L410.80 118.63 L411.00 116.89 L411.20 116.70 L411.40 116.70 L411.60 116.70 L411.80 116.89 L412.00 118.63 L412.20 123.48 L412.40 125.94 L412.60 126.00 L415.60 126.00 L415.80 125.98 L416.00 124.00 L416.20 113.29 L416.40 102.43 L416.60 98.55 L416.80 97.93 L417.00 97.90 L417.20 97.90 L417.40 97.93 L417.60 98.55 L417.80 102.43 L418.00 113.29 L418.20 124.00 L418.40 125.98 L418.60 126.00 L501.60 126.00 L501.70 126.00 Z" fill="#74b27a" opacity="0.25"/>
<path d="M292.00 126.00 L383.00 126.00 L383.20 125.86 L383.40 124.75 L383.60 124.08 L383.80 124.00 L384.00 124.00 L384.20 124.00 L384.40 124.08 L384.60 124.75 L384.80 125.86 L385.00 126.00 L391.80 126.00 L392.00 125.66 L392.20 119.39 L392.40 106.12 L392.60 98.58 L392.80 96.78 L393.00 96.60 L393.20 96.60 L393.40 96.60 L393.60 96.78 L393.80 98.58 L394.00 106.12 L394.20 119.39 L394.40 125.66 L394.60 126.00 L410.20 126.00 L410.40 125.94 L410.60 123.48 L410.80 118.63 L411.00 116.89 L411.20 116.70 L411.40 116.70 L411.60 116.70 L411.80 116.89 L412.00 118.63 L412.20 123.48 L412.40 125.94 L412.60 126.00 L415.60 126.00 L415.80 125.98 L416.00 124.00 L416.20 113.29 L416.40 102.43 L416.60 98.55 L416.80 97.93 L417.00 97.90 L417.20 97.90 L417.40 97.93 L417.60 98.55 L417.80 102.43 L418.00 113.29 L418.20 124.00 L418.40 125.98 L418.60 126.00 L501.60 126.00" fill="none" stroke="#74b27a" stroke-width="0.8"/>
<rect x="292" y="125.75" width="210" height="1.0" fill="#303030"/>
<rect x="406.1" y="85.9" width="10.5" height="0.8" fill="#74b27a"/>
<text transform="translate(421.10,88.60) scale(0.870,1)" font-size="7.00" fill="#262626">Unique to FL-rFVIII+pdVWF</text>
<rect x="292.30" y="130.70" width="30.04" height="5.80" fill="#cc5a38" stroke="#1e1410" stroke-width="0.9"/>
<text transform="translate(307.32,136.05) scale(0.900,1)" font-size="6.80" fill="#1a0c08" text-anchor="middle">A1</text>
<rect x="322.34" y="130.70" width="3.22" height="5.80" fill="#bde2f2" stroke="#1e1410" stroke-width="0.9"/>
<rect x="325.56" y="130.70" width="30.22" height="5.80" fill="#cc5a38" stroke="#1e1410" stroke-width="0.9"/>
<text transform="translate(340.67,136.05) scale(0.900,1)" font-size="6.80" fill="#1a0c08" text-anchor="middle">A2</text>
<rect x="355.78" y="130.70" width="2.68" height="5.80" fill="#bde2f2" stroke="#1e1410" stroke-width="0.9"/>
<rect x="358.46" y="130.70" width="81.18" height="5.80" fill="#f4dc30" stroke="#1e1410" stroke-width="0.9"/>
<text transform="translate(399.05,136.05) scale(0.900,1)" font-size="6.80" fill="#1a0c08" text-anchor="middle">B</text>
<rect x="439.64" y="130.70" width="3.67" height="5.80" fill="#bde2f2" stroke="#1e1410" stroke-width="0.9"/>
<rect x="443.31" y="130.70" width="29.50" height="5.80" fill="#f2c2c2" stroke="#1e1410" stroke-width="0.9"/>
<text transform="translate(458.06,136.05) scale(0.900,1)" font-size="6.80" fill="#1a0c08" text-anchor="middle">A3</text>
<rect x="472.82" y="130.70" width="13.68" height="5.80" fill="#f2c2c2" stroke="#1e1410" stroke-width="0.9"/>
<text transform="translate(479.65,136.05) scale(0.900,1)" font-size="6.80" fill="#1a0c08" text-anchor="middle">C1</text>
<rect x="486.49" y="130.70" width="14.31" height="5.80" fill="#f2c2c2" stroke="#1e1410" stroke-width="0.9"/>
<text transform="translate(493.65,136.05) scale(0.900,1)" font-size="6.80" fill="#1a0c08" text-anchor="middle">C2</text>
<text transform="translate(396.50,147.30) scale(0.900,1)" font-size="9.40" fill="#1c1c1c" text-anchor="middle" stroke="#1c1c1c" stroke-width="0.15">Position on FVIII</text>
<text transform="translate(261.8,231.6) rotate(-90)" font-size="9" fill="#222" text-anchor="middle">Number of peptides</text>
<rect x="281.6" y="175.0" width="231.2" height="1.2" fill="#333"/>
<rect x="281.6" y="175.0" width="1.1" height="113.5" fill="#333"/>
<rect x="511.6" y="175.0" width="1.1" height="113.5" fill="#333"/>
<rect x="281.6" y="287.4" width="231.2" height="1.1" fill="#333"/>
<rect x="278.8" y="282.80" width="3" height="0.9" fill="#333"/>
<text transform="translate(276.40,285.55) scale(0.930,1)" font-size="6.70" fill="#262626" text-anchor="end">0</text>
<rect x="278.8" y="266.55" width="3" height="0.9" fill="#333"/>
<text transform="translate(276.40,269.30) scale(0.930,1)" font-size="6.70" fill="#262626" text-anchor="end">10</text>
<rect x="278.8" y="250.30" width="3" height="0.9" fill="#333"/>
<text transform="translate(276.40,253.05) scale(0.930,1)" font-size="6.70" fill="#262626" text-anchor="end">20</text>
<rect x="278.8" y="234.05" width="3" height="0.9" fill="#333"/>
<text transform="translate(276.40,236.80) scale(0.930,1)" font-size="6.70" fill="#262626" text-anchor="end">30</text>
<rect x="278.8" y="217.80" width="3" height="0.9" fill="#333"/>
<text transform="translate(276.40,220.55) scale(0.930,1)" font-size="6.70" fill="#262626" text-anchor="end">40</text>
<rect x="278.8" y="201.55" width="3" height="0.9" fill="#333"/>
<text transform="translate(276.40,204.30) scale(0.930,1)" font-size="6.70" fill="#262626" text-anchor="end">50</text>
<rect x="278.8" y="185.30" width="3" height="0.9" fill="#333"/>
<text transform="translate(276.40,188.05) scale(0.930,1)" font-size="6.70" fill="#262626" text-anchor="end">60</text>
<path d="M283.00 283.30 L283.00 283.30 L288.80 283.30 L289.00 283.26 L289.20 282.97 L289.40 282.35 L289.60 281.79 L289.80 281.51 L290.00 281.42 L290.20 281.40 L290.40 281.40 L290.60 281.40 L290.80 281.40 L291.00 281.40 L291.20 281.42 L291.40 281.51 L291.60 281.79 L291.80 282.35 L292.00 282.97 L292.20 283.26 L292.40 283.30 L312.80 283.30 L313.00 283.27 L313.20 281.94 L313.40 279.34 L313.60 278.40 L313.80 278.30 L314.00 278.30 L314.20 278.30 L314.40 278.40 L314.60 279.34 L314.80 281.94 L315.00 283.27 L315.20 283.30 L317.40 283.29 L317.60 282.50 L317.80 278.19 L318.00 273.82 L318.20 272.26 L318.40 272.01 L318.60 272.00 L318.80 272.00 L319.00 272.01 L319.20 272.26 L319.40 273.82 L319.60 278.19 L319.80 282.50 L320.00 283.29 L326.60 283.30 L326.80 282.85 L327.00 280.15 L327.20 277.73 L327.40 277.07 L327.60 277.00 L327.80 277.00 L328.00 277.00 L328.20 277.07 L328.40 277.73 L328.60 280.15 L328.80 282.85 L329.00 283.30 L336.40 283.30 L336.60 283.27 L336.80 281.97 L337.00 279.42 L337.20 278.50 L337.40 278.40 L337.60 278.40 L337.80 278.40 L338.00 278.50 L338.20 279.42 L338.40 281.97 L338.60 283.27 L338.80 283.30 L340.60 283.30 L340.80 282.72 L341.00 278.79 L341.20 275.81 L341.40 275.23 L341.60 275.20 L341.80 275.20 L342.00 275.23 L342.20 275.81 L342.40 278.79 L342.60 282.72 L342.80 283.30 L352.00 283.30 L352.20 283.08 L352.40 279.83 L352.60 270.38 L352.80 260.82 L353.00 255.96 L353.20 254.48 L353.40 254.22 L353.60 254.20 L353.80 254.20 L354.00 254.20 L354.20 254.28 L354.40 254.96 L354.60 257.81 L354.80 265.12 L355.00 275.68 L355.20 282.19 L355.40 283.28 L355.60 283.30 L378.00 283.30 L378.20 282.91 L378.40 277.45 L378.60 265.75 L378.80 257.98 L379.00 255.59 L379.20 255.22 L379.40 255.20 L379.60 255.20 L379.80 255.22 L380.00 255.59 L380.20 257.98 L380.40 265.75 L380.60 277.45 L380.80 282.91 L381.00 283.30 L382.20 283.30 L382.40 282.99 L382.60 279.50 L382.80 279.00 L383.00 279.00 L383.20 279.50 L383.40 282.99 L383.60 283.30 L383.80 283.25 L384.00 279.85 L384.20 273.65 L384.40 272.08 L384.60 272.00 L384.80 272.00 L385.00 272.08 L385.20 273.65 L385.40 279.85 L385.60 283.25 L385.80 283.30 L392.00 283.30 L392.20 283.23 L392.40 280.67 L392.60 266.25 L392.80 223.04 L393.00 196.33 L393.20 191.54 L393.40 191.30 L393.60 191.30 L393.80 191.54 L394.00 196.33 L394.20 216.01 L394.40 216.30 L394.60 218.22 L394.80 225.44 L395.00 242.64 L395.20 258.00 L395.40 258.00 L395.60 258.06 L395.80 258.64 L396.00 261.38 L396.20 268.67 L396.40 275.00 L396.60 275.01 L396.80 275.34 L397.00 278.12 L397.20 282.71 L397.40 283.30 L400.40 283.30 L400.60 283.29 L400.80 282.60 L401.00 281.34 L401.20 281.02 L401.40 281.00 L401.60 281.00 L401.80 281.02 L402.00 281.34 L402.20 282.60 L402.40 283.12 L402.60 282.23 L402.80 281.24 L403.00 280.81 L403.20 280.71 L403.40 280.70 L403.60 280.70 L403.80 280.70 L404.00 280.71 L404.20 280.81 L404.40 281.24 L404.60 282.23 L404.80 283.12 L405.00 283.30 L409.20 283.30 L409.40 283.26 L409.60 280.46 L409.80 275.36 L410.00 274.07 L410.20 274.00 L410.40 274.00 L410.60 274.07 L410.80 275.36 L411.00 280.46 L411.20 283.26 L411.40 283.30 L411.80 283.30 L412.00 283.09 L412.20 277.93 L412.40 256.84 L412.60 230.16 L412.80 214.44 L413.00 196.21 L413.20 181.81 L413.40 180.32 L413.60 180.30 L413.80 180.32 L414.00 181.81 L414.20 196.21 L414.40 214.44 L414.60 230.16 L414.80 256.84 L415.00 277.93 L415.20 283.09 L415.40 283.30 L415.80 283.30 L416.00 282.23 L416.20 280.81 L416.40 280.70 L416.60 280.70 L416.80 280.81 L417.00 282.23 L417.20 283.30 L418.20 283.30 L418.40 282.77 L418.60 269.12 L418.80 240.95 L419.00 227.84 L419.20 225.61 L419.40 225.50 L419.60 225.50 L419.80 225.61 L420.00 227.84 L420.20 240.95 L420.40 269.12 L420.60 282.77 L420.80 283.30 L424.00 283.30 L424.20 283.29 L424.40 281.44 L424.60 278.47 L424.80 278.01 L425.00 278.00 L425.20 278.01 L425.40 278.47 L425.60 281.44 L425.80 283.29 L426.00 283.30 L426.40 283.30 L426.60 282.93 L426.80 273.44 L427.00 253.85 L427.20 244.73 L427.40 243.18 L427.60 243.10 L427.80 243.10 L428.00 243.18 L428.20 244.73 L428.40 253.85 L428.60 273.44 L428.80 277.74 L429.00 267.05 L429.20 263.21 L429.40 262.81 L429.60 262.80 L429.80 262.81 L430.00 263.21 L430.20 267.05 L430.40 277.74 L430.60 283.16 L430.80 283.30 L433.80 283.30 L434.00 283.24 L434.20 279.33 L434.40 272.20 L434.60 270.40 L434.80 270.30 L435.00 270.30 L435.20 270.40 L435.40 272.20 L435.60 279.33 L435.80 283.24 L436.00 283.30 L438.60 283.30 L438.80 283.19 L439.00 278.90 L439.20 270.46 L439.40 267.43 L439.60 267.11 L439.80 267.10 L440.00 267.11 L440.20 267.43 L440.40 270.46 L440.60 278.90 L440.80 275.62 L441.00 271.50 L441.20 271.01 L441.40 271.00 L441.60 271.01 L441.80 271.50 L442.00 275.62 L442.20 282.43 L442.40 283.30 L452.40 283.30 L452.60 283.09 L452.80 281.19 L453.00 280.35 L453.20 280.30 L453.40 280.30 L453.60 280.35 L453.80 281.19 L454.00 283.09 L454.20 283.30 L456.20 283.30 L456.40 283.19 L456.60 278.96 L456.80 270.61 L457.00 267.62 L457.20 267.31 L457.40 267.30 L457.60 267.31 L457.80 267.62 L458.00 270.61 L458.20 278.96 L458.40 283.19 L458.60 283.30 L466.80 283.30 L467.00 283.29 L467.20 281.55 L467.40 278.74 L467.60 278.31 L467.80 278.30 L468.00 278.31 L468.20 278.74 L468.40 281.55 L468.60 283.29 L468.80 283.30 L471.00 283.30 L471.20 283.29 L471.40 281.55 L471.60 278.74 L471.80 278.31 L472.00 278.30 L472.20 278.31 L472.40 278.74 L472.60 281.55 L472.80 283.29 L473.00 283.30 L501.20 283.30 L501.40 283.28 L501.60 282.83 L501.80 281.91 L502.00 281.48 L502.20 281.40 L502.40 281.40 L502.60 281.40 L502.80 281.40 L503.00 281.48 L503.20 281.91 L503.40 282.83 L503.60 283.28 L503.80 283.30 L511.40 283.30 L511.50 283.30 Z" fill="#74b27a" opacity="0.2"/>
<path d="M283.00 283.30 L288.80 283.30 L289.00 283.26 L289.20 282.97 L289.40 282.35 L289.60 281.79 L289.80 281.51 L290.00 281.42 L290.20 281.40 L290.40 281.40 L290.60 281.40 L290.80 281.40 L291.00 281.40 L291.20 281.42 L291.40 281.51 L291.60 281.79 L291.80 282.35 L292.00 282.97 L292.20 283.26 L292.40 283.30 L312.80 283.30 L313.00 283.27 L313.20 281.94 L313.40 279.34 L313.60 278.40 L313.80 278.30 L314.00 278.30 L314.20 278.30 L314.40 278.40 L314.60 279.34 L314.80 281.94 L315.00 283.27 L315.20 283.30 L317.40 283.29 L317.60 282.50 L317.80 278.19 L318.00 273.82 L318.20 272.26 L318.40 272.01 L318.60 272.00 L318.80 272.00 L319.00 272.01 L319.20 272.26 L319.40 273.82 L319.60 278.19 L319.80 282.50 L320.00 283.29 L326.60 283.30 L326.80 282.85 L327.00 280.15 L327.20 277.73 L327.40 277.07 L327.60 277.00 L327.80 277.00 L328.00 277.00 L328.20 277.07 L328.40 277.73 L328.60 280.15 L328.80 282.85 L329.00 283.30 L336.40 283.30 L336.60 283.27 L336.80 281.97 L337.00 279.42 L337.20 278.50 L337.40 278.40 L337.60 278.40 L337.80 278.40 L338.00 278.50 L338.20 279.42 L338.40 281.97 L338.60 283.27 L338.80 283.30 L340.60 283.30 L340.80 282.72 L341.00 278.79 L341.20 275.81 L341.40 275.23 L341.60 275.20 L341.80 275.20 L342.00 275.23 L342.20 275.81 L342.40 278.79 L342.60 282.72 L342.80 283.30 L352.00 283.30 L352.20 283.08 L352.40 279.83 L352.60 270.38 L352.80 260.82 L353.00 255.96 L353.20 254.48 L353.40 254.22 L353.60 254.20 L353.80 254.20 L354.00 254.20 L354.20 254.28 L354.40 254.96 L354.60 257.81 L354.80 265.12 L355.00 275.68 L355.20 282.19 L355.40 283.28 L355.60 283.30 L378.00 283.30 L378.20 282.91 L378.40 277.45 L378.60 265.75 L378.80 257.98 L379.00 255.59 L379.20 255.22 L379.40 255.20 L379.60 255.20 L379.80 255.22 L380.00 255.59 L380.20 257.98 L380.40 265.75 L380.60 277.45 L380.80 282.91 L381.00 283.30 L382.20 283.30 L382.40 282.99 L382.60 279.50 L382.80 279.00 L383.00 279.00 L383.20 279.50 L383.40 282.99 L383.60 283.30 L383.80 283.25 L384.00 279.85 L384.20 273.65 L384.40 272.08 L384.60 272.00 L384.80 272.00 L385.00 272.08 L385.20 273.65 L385.40 279.85 L385.60 283.25 L385.80 283.30 L392.00 283.30 L392.20 283.23 L392.40 280.67 L392.60 266.25 L392.80 223.04 L393.00 196.33 L393.20 191.54 L393.40 191.30 L393.60 191.30 L393.80 191.54 L394.00 196.33 L394.20 216.01 L394.40 216.30 L394.60 218.22 L394.80 225.44 L395.00 242.64 L395.20 258.00 L395.40 258.00 L395.60 258.06 L395.80 258.64 L396.00 261.38 L396.20 268.67 L396.40 275.00 L396.60 275.01 L396.80 275.34 L397.00 278.12 L397.20 282.71 L397.40 283.30 L400.40 283.30 L400.60 283.29 L400.80 282.60 L401.00 281.34 L401.20 281.02 L401.40 281.00 L401.60 281.00 L401.80 281.02 L402.00 281.34 L402.20 282.60 L402.40 283.12 L402.60 282.23 L402.80 281.24 L403.00 280.81 L403.20 280.71 L403.40 280.70 L403.60 280.70 L403.80 280.70 L404.00 280.71 L404.20 280.81 L404.40 281.24 L404.60 282.23 L404.80 283.12 L405.00 283.30 L409.20 283.30 L409.40 283.26 L409.60 280.46 L409.80 275.36 L410.00 274.07 L410.20 274.00 L410.40 274.00 L410.60 274.07 L410.80 275.36 L411.00 280.46 L411.20 283.26 L411.40 283.30 L411.80 283.30 L412.00 283.09 L412.20 277.93 L412.40 256.84 L412.60 230.16 L412.80 214.44 L413.00 196.21 L413.20 181.81 L413.40 180.32 L413.60 180.30 L413.80 180.32 L414.00 181.81 L414.20 196.21 L414.40 214.44 L414.60 230.16 L414.80 256.84 L415.00 277.93 L415.20 283.09 L415.40 283.30 L415.80 283.30 L416.00 282.23 L416.20 280.81 L416.40 280.70 L416.60 280.70 L416.80 280.81 L417.00 282.23 L417.20 283.30 L418.20 283.30 L418.40 282.77 L418.60 269.12 L418.80 240.95 L419.00 227.84 L419.20 225.61 L419.40 225.50 L419.60 225.50 L419.80 225.61 L420.00 227.84 L420.20 240.95 L420.40 269.12 L420.60 282.77 L420.80 283.30 L424.00 283.30 L424.20 283.29 L424.40 281.44 L424.60 278.47 L424.80 278.01 L425.00 278.00 L425.20 278.01 L425.40 278.47 L425.60 281.44 L425.80 283.29 L426.00 283.30 L426.40 283.30 L426.60 282.93 L426.80 273.44 L427.00 253.85 L427.20 244.73 L427.40 243.18 L427.60 243.10 L427.80 243.10 L428.00 243.18 L428.20 244.73 L428.40 253.85 L428.60 273.44 L428.80 277.74 L429.00 267.05 L429.20 263.21 L429.40 262.81 L429.60 262.80 L429.80 262.81 L430.00 263.21 L430.20 267.05 L430.40 277.74 L430.60 283.16 L430.80 283.30 L433.80 283.30 L434.00 283.24 L434.20 279.33 L434.40 272.20 L434.60 270.40 L434.80 270.30 L435.00 270.30 L435.20 270.40 L435.40 272.20 L435.60 279.33 L435.80 283.24 L436.00 283.30 L438.60 283.30 L438.80 283.19 L439.00 278.90 L439.20 270.46 L439.40 267.43 L439.60 267.11 L439.80 267.10 L440.00 267.11 L440.20 267.43 L440.40 270.46 L440.60 278.90 L440.80 275.62 L441.00 271.50 L441.20 271.01 L441.40 271.00 L441.60 271.01 L441.80 271.50 L442.00 275.62 L442.20 282.43 L442.40 283.30 L452.40 283.30 L452.60 283.09 L452.80 281.19 L453.00 280.35 L453.20 280.30 L453.40 280.30 L453.60 280.35 L453.80 281.19 L454.00 283.09 L454.20 283.30 L456.20 283.30 L456.40 283.19 L456.60 278.96 L456.80 270.61 L457.00 267.62 L457.20 267.31 L457.40 267.30 L457.60 267.31 L457.80 267.62 L458.00 270.61 L458.20 278.96 L458.40 283.19 L458.60 283.30 L466.80 283.30 L467.00 283.29 L467.20 281.55 L467.40 278.74 L467.60 278.31 L467.80 278.30 L468.00 278.31 L468.20 278.74 L468.40 281.55 L468.60 283.29 L468.80 283.30 L471.00 283.30 L471.20 283.29 L471.40 281.55 L471.60 278.74 L471.80 278.31 L472.00 278.30 L472.20 278.31 L472.40 278.74 L472.60 281.55 L472.80 283.29 L473.00 283.30 L501.20 283.30 L501.40 283.28 L501.60 282.83 L501.80 281.91 L502.00 281.48 L502.20 281.40 L502.40 281.40 L502.60 281.40 L502.80 281.40 L503.00 281.48 L503.20 281.91 L503.40 282.83 L503.60 283.28 L503.80 283.30 L511.40 283.30" fill="none" stroke="#74b27a" stroke-width="0.8"/>
<rect x="287.0" y="187.1" width="13" height="0.8" fill="#74b27a"/>
<text transform="translate(303.70,186.20) scale(0.870,1)" font-size="7.00" fill="#262626">Unique to FL-rVIII+VWF</text>
<text transform="translate(303.70,194.85) scale(0.870,1)" font-size="7.00" fill="#262626">vs PD-FVIII</text>
<rect x="281.90" y="293.20" width="33.20" height="5.50" fill="#cc5a38" stroke="#1e1410" stroke-width="0.9"/>
<text transform="translate(298.50,298.25) scale(0.900,1)" font-size="6.60" fill="#1a0c08" text-anchor="middle">A1</text>
<rect x="315.10" y="293.20" width="3.56" height="5.50" fill="#bde2f2" stroke="#1e1410" stroke-width="0.9"/>
<rect x="318.65" y="293.20" width="33.39" height="5.50" fill="#cc5a38" stroke="#1e1410" stroke-width="0.9"/>
<text transform="translate(335.35,298.25) scale(0.900,1)" font-size="6.60" fill="#1a0c08" text-anchor="middle">A2</text>
<rect x="352.05" y="293.20" width="2.96" height="5.50" fill="#bde2f2" stroke="#1e1410" stroke-width="0.9"/>
<rect x="355.01" y="293.20" width="89.71" height="5.50" fill="#f4dc30" stroke="#1e1410" stroke-width="0.9"/>
<text transform="translate(399.87,298.25) scale(0.900,1)" font-size="6.60" fill="#1a0c08" text-anchor="middle">B</text>
<rect x="444.72" y="293.20" width="4.05" height="5.50" fill="#bde2f2" stroke="#1e1410" stroke-width="0.9"/>
<rect x="448.77" y="293.20" width="32.60" height="5.50" fill="#f2c2c2" stroke="#1e1410" stroke-width="0.9"/>
<text transform="translate(465.07,298.25) scale(0.900,1)" font-size="6.60" fill="#1a0c08" text-anchor="middle">A3</text>
<rect x="481.38" y="293.20" width="15.12" height="5.50" fill="#f2c2c2" stroke="#1e1410" stroke-width="0.9"/>
<text transform="translate(488.93,298.25) scale(0.900,1)" font-size="6.60" fill="#1a0c08" text-anchor="middle">C1</text>
<rect x="496.49" y="293.20" width="15.81" height="5.50" fill="#f2c2c2" stroke="#1e1410" stroke-width="0.9"/>
<text transform="translate(504.40,298.25) scale(0.900,1)" font-size="6.60" fill="#1a0c08" text-anchor="middle">C2</text>
<text transform="translate(397.30,309.60) scale(0.900,1)" font-size="9.40" fill="#1c1c1c" text-anchor="middle" stroke="#1c1c1c" stroke-width="0.15">Position on FVIII</text>
</svg></body></html>
